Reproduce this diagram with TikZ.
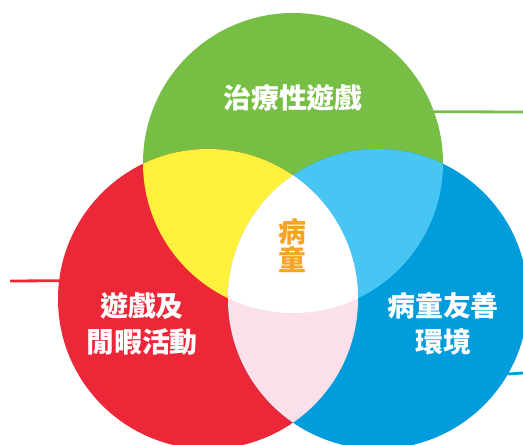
\documentclass[tikz,border=0pt]{standalone}
\usepackage{fontspec}
\IfFontExistsTF{Noto Sans CJK TC Black}
  {\newfontfamily\cjk{Noto Sans CJK TC Black}}
  {\IfFontExistsTF{Noto Sans CJK TC Bold}
    {\newfontfamily\cjk{Noto Sans CJK TC Bold}}
    {\newfontfamily\cjk[FakeBold=1.5]{Noto Sans CJK TC}}}
\definecolor{grn}{HTML}{76BF44}
\definecolor{rd}{HTML}{EC2737}
\definecolor{blu}{HTML}{009CDC}
\definecolor{ylw}{HTML}{FFF13D}
\definecolor{lblu}{HTML}{47C6F4}
\definecolor{pnk}{HTML}{FBE0EA}
\definecolor{orng}{HTML}{F7A325}
\tikzset{
  big_circ/.style={circle, minimum size=300bp, inner sep=0pt, outer sep=0pt},
  label_txt/.style={text=white, align=center, font=\cjk\fontsize{28}{36}\selectfont},
  side_line/.style={line width=2.8bp}
}
\begin{document}
\begin{tikzpicture}[x=1bp, y=-1bp]
\useasboundingbox (0,0) rectangle (523,445);
\clip (0,0) rectangle (523,445);
\fill[white] (0,0) rectangle (523,445);

%side lines
\node[big_circ](green_circ)at(293,163){};
\node[big_circ](red_circ)at(208,299){};
\node[big_circ](blue_circ)at(378,299){};
\coordinate (green_end) at (523,112);
\coordinate (red_end) at (10,281);
\coordinate (blue_end) at (523,373);
\draw[side_line, grn] (green_circ.20) -- (green_end);
\draw[side_line, rd] (red_circ.173) -- (red_end);
\draw[side_line, blu] (blue_circ.-30) -- (blue_end);

%circles
\node[big_circ, fill=grn]at(293,163){};
\node[big_circ, fill=rd]at(208,299){};
\node[big_circ, fill=blu]at(378,299){};

%overlaps
\begin{scope}
  \clip (293,163) circle (150);
  \fill[ylw] (208,299) circle (150);
  \fill[lblu] (378,299) circle (150);
\end{scope}
\begin{scope}
  \clip (208,299) circle (150);
  \fill[pnk] (378,299) circle (150);
  \clip (378,299) circle (150);
  \fill[white] (293,163) circle (150);
\end{scope}

%labels
\node[label_txt](green_lbl)at(293,98){治療性遊戲};
\node[label_txt](red_lbl)at(142,324){遊戲及\\閒暇活動};
\node[label_txt](blue_lbl)at(443,324){病童友善\\環境};
\node[label_txt, text=orng, font=\cjk\fontsize{28}{28}\selectfont](center_lbl)at(292,246){病\\童};
\end{tikzpicture}
\end{document}
